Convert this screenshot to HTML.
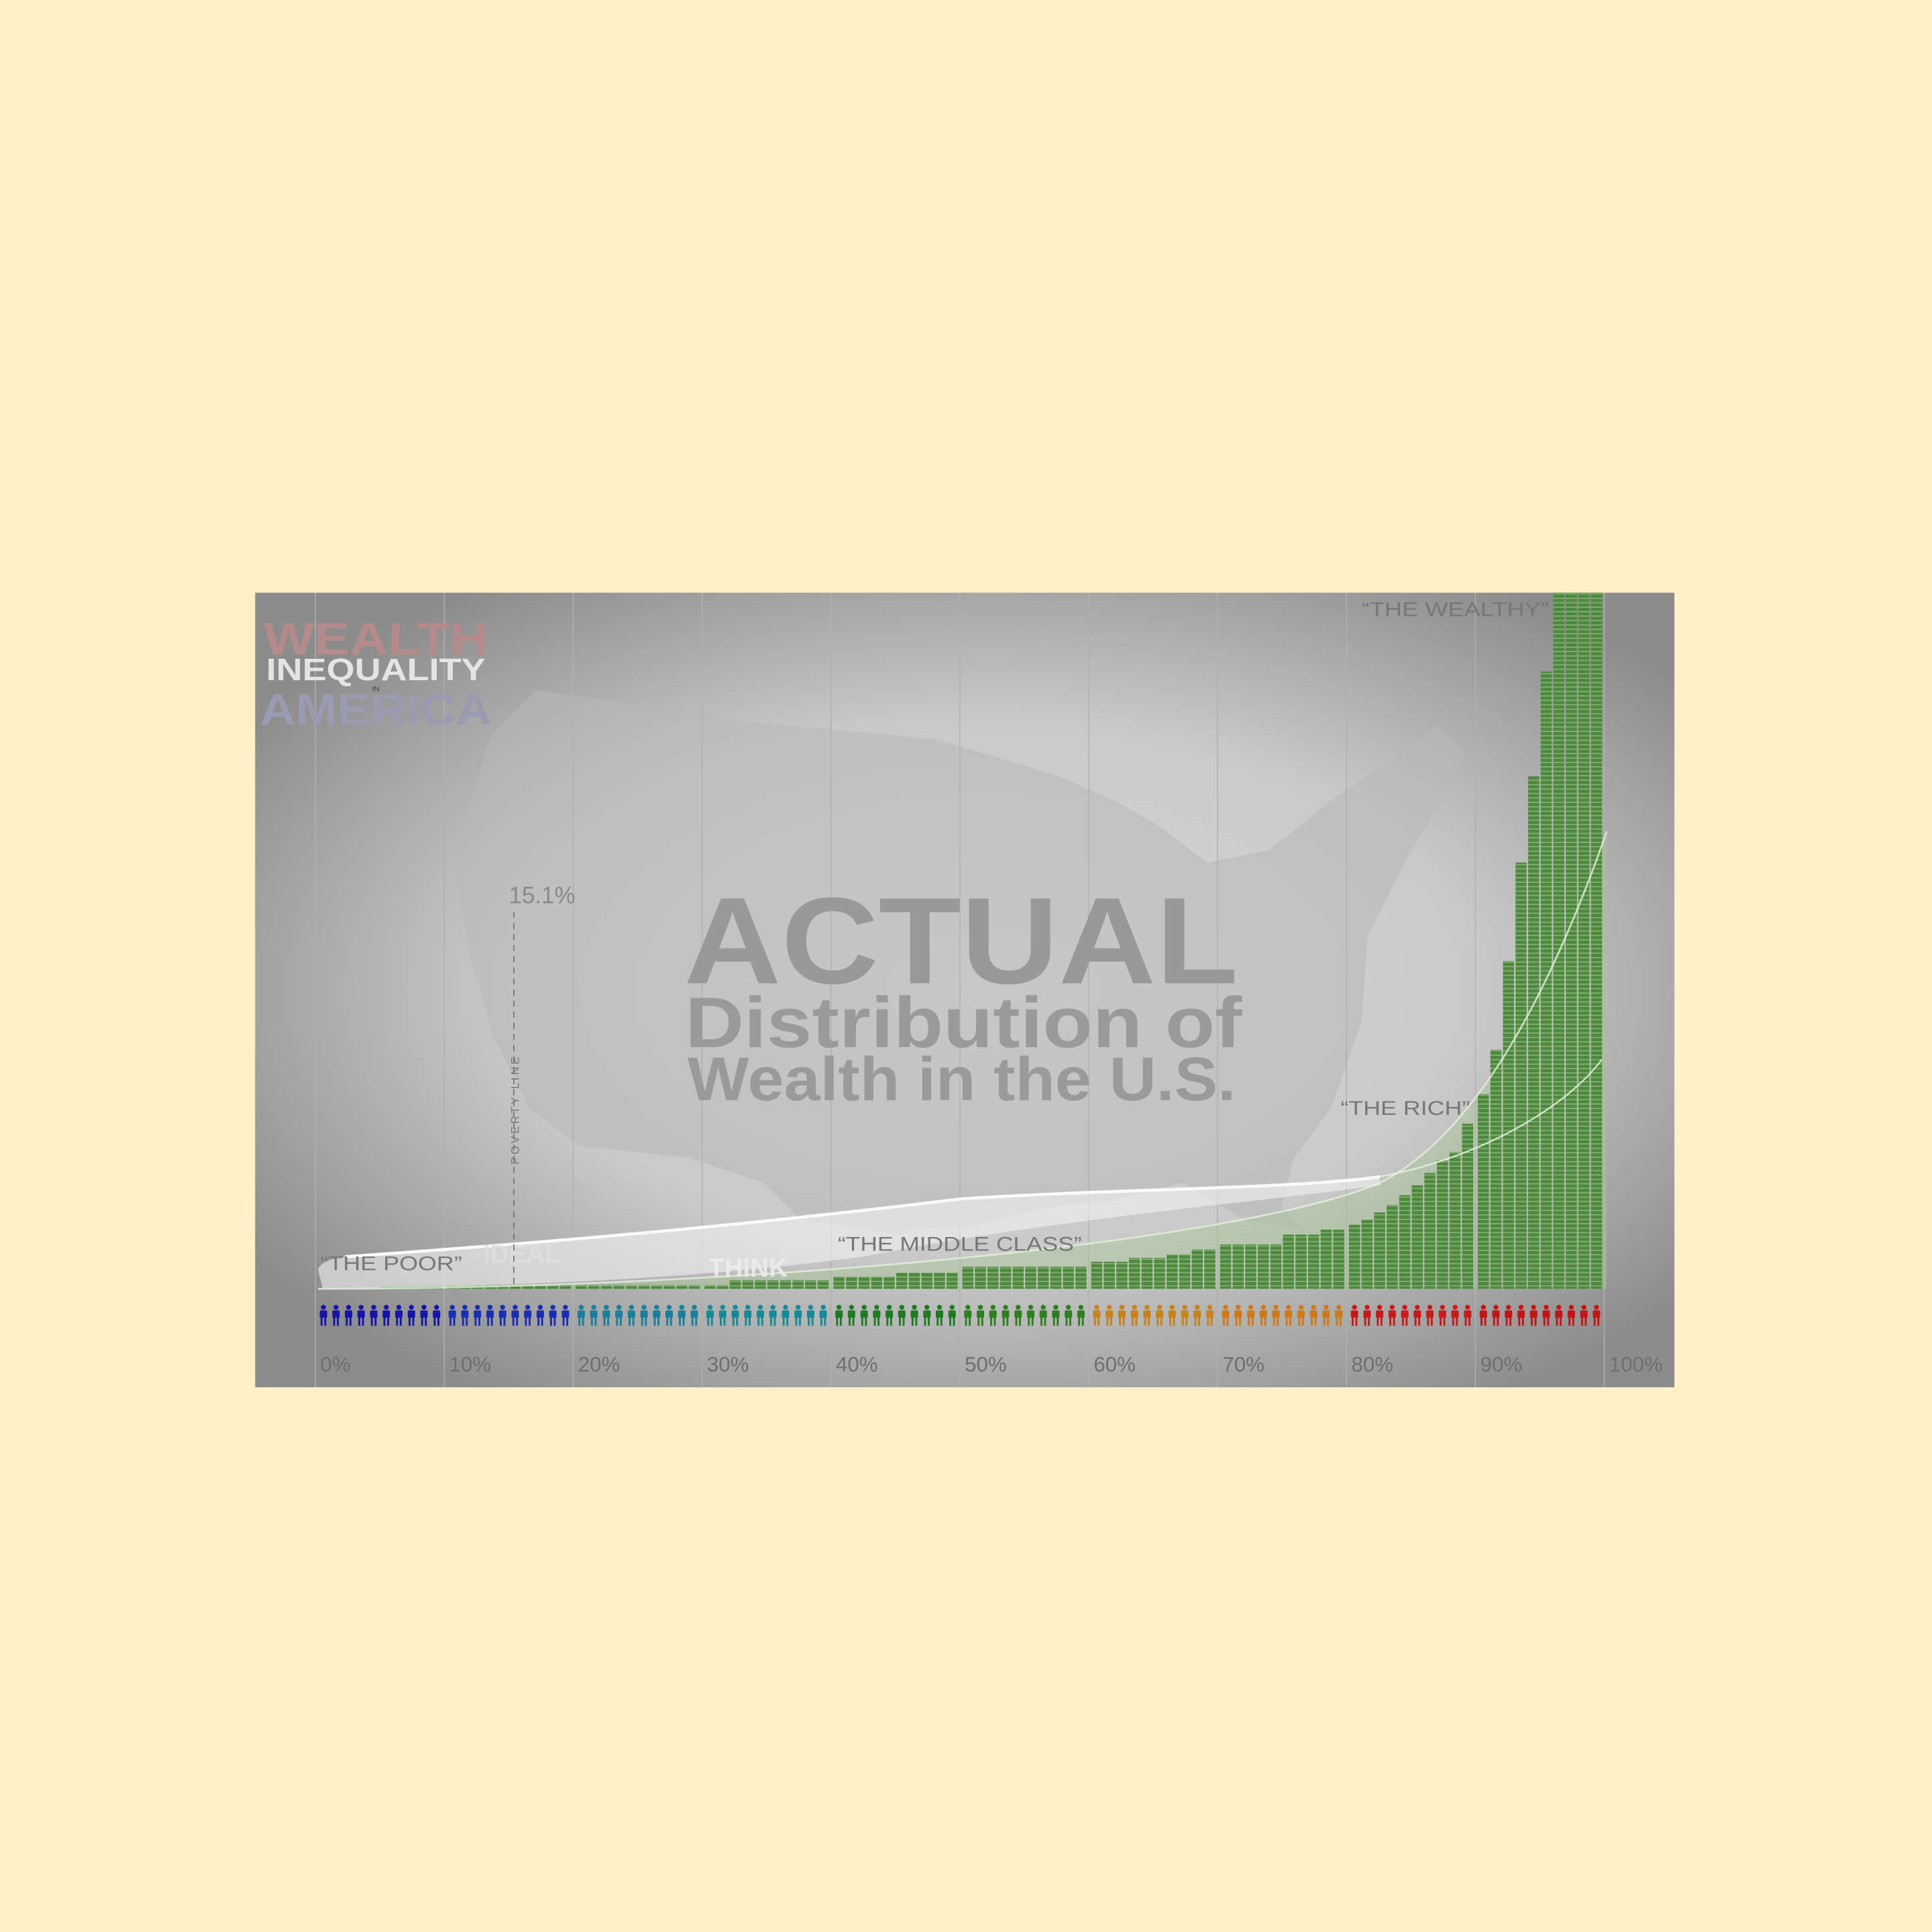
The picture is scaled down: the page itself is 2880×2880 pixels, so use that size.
<!DOCTYPE html>
<html><head><meta charset="utf-8"><style>
html,body{margin:0;padding:0;background:#fff0c9;}
svg{display:block;}
text{font-family:"Liberation Sans",sans-serif;}
</style></head><body>
<svg id="chart" width="2880" height="2880" viewBox="0 0 1568 1568" xmlns="http://www.w3.org/2000/svg">
<defs>
<radialGradient id="bg" cx="0.52" cy="0.5" r="0.62">
<stop offset="0" stop-color="#dadada"/><stop offset="0.55" stop-color="#c9c9c9"/><stop offset="1" stop-color="#8c8c8c"/>
</radialGradient>
<clipPath id="clip"><rect x="207" y="481" width="1152" height="645"/></clipPath>
<pattern id="cells" width="4" height="3.6" patternUnits="userSpaceOnUse"><rect width="4" height="3.6" fill="#4e8a3e"/><rect y="2.8" width="4" height="0.8" fill="#8fb47e"/></pattern>
</defs>
<rect width="1568" height="1568" fill="#fff0c9"/>
<g clip-path="url(#clip)">
<rect x="207" y="481" width="1152" height="645" fill="url(#bg)"/>
<path fill="#b8b8b8" opacity="0.55" d="M398,598 L435,560 L600,585 L760,600 L860,630 L905,650 L940,670 L980,700 L1030,690 L1080,650 L1140,610 L1165,588 L1190,610 L1170,650 L1140,700 L1110,760 L1105,830 L1080,900 L1050,940 L1040,980 L1060,1000 L1010,990 L960,960 L900,975 L850,980 L790,995 L720,1000 L650,990 L620,960 L560,940 L470,930 L430,900 L400,840 L380,770 L368,700 Z"/>
<g id="gridlines"></g>
<text x="555" y="798" textLength="450" lengthAdjust="spacingAndGlyphs" font-size="100" font-weight="bold" fill="#999">ACTUAL</text>
<text x="556" y="850" textLength="452" lengthAdjust="spacingAndGlyphs" font-size="58" font-weight="bold" fill="#9a9a9a">Distribution of</text>
<text x="558" y="893" textLength="445" lengthAdjust="spacingAndGlyphs" font-size="50" font-weight="bold" fill="#9a9a9a">Wealth in the U.S.</text>
<text x="214" y="531" textLength="182" lengthAdjust="spacingAndGlyphs" font-size="37" font-weight="bold" fill="#b58a8a">WEALTH</text>
<text x="216" y="552" textLength="178" lengthAdjust="spacingAndGlyphs" font-size="25" font-weight="bold" fill="#e4e4e4">INEQUALITY</text>
<text x="302" y="561" font-size="6" fill="#444">IN</text>
<text x="211" y="588" textLength="188" lengthAdjust="spacingAndGlyphs" font-size="36" font-weight="bold" fill="#9a9ab0">AMERICA</text>
<path d="M258,1046 C600,1046 1000,1010 1120,960 C1200,920 1260,800 1304,675 L1304,1046 Z" fill="#a9c59a" opacity="0.45"/>
<g id="bars"></g>
<path d="M258,1046 C600,1046 1000,1010 1120,960 C1200,920 1260,800 1304,675" fill="none" stroke="#e4f0dc" stroke-width="1.5" opacity="0.8"/>
<path d="M258,1030 Q262,1022 280,1020 C450,1008 600,995 780,973 C900,965 1050,965 1120,955 L1120,962 C1000,978 850,990 700,1020 C550,1040 400,1044 262,1046 Z" fill="#f2f2f2" opacity="0.6"/>
<path d="M280,1020 C450,1008 600,995 780,973 C900,965 1050,965 1120,955" fill="none" stroke="#fafafa" stroke-width="2.5"/>
<path d="M1120,955 C1200,940 1270,900 1300,860" fill="none" stroke="#e8f2e2" stroke-width="1.3" opacity="0.85"/>
<text x="392" y="1025" font-size="21" font-weight="bold" fill="#e0e0e0" opacity="0.8">IDEAL</text>
<text x="575" y="1036" font-size="21" font-weight="bold" fill="#eeeeee" opacity="0.85">THINK</text>
<line x1="417" y1="740" x2="417" y2="1046" stroke="#777" stroke-width="1" stroke-dasharray="5,4"/>
<text x="421" y="945" font-size="9" fill="#777" letter-spacing="2" transform="rotate(-90 421 945)">POVERTY LINE</text>
<text x="413" y="733" font-size="19" fill="#8a8a8a">15.1%</text>
<text x="260" y="1031" textLength="115" lengthAdjust="spacingAndGlyphs" font-size="16" fill="#777">“THE POOR”</text>
<text x="680" y="1015" textLength="198" lengthAdjust="spacingAndGlyphs" font-size="16" fill="#777">“THE MIDDLE CLASS”</text>
<text x="1088" y="905" textLength="105" lengthAdjust="spacingAndGlyphs" font-size="16" fill="#777">“THE RICH”</text>
<text x="1105" y="500" textLength="152" lengthAdjust="spacingAndGlyphs" font-size="16" fill="#777">“THE WEALTHY”</text>
<g id="people"></g>
<g id="ticks"></g>
</g>
</svg>
<script>
// bar heights (display units above baseline) for each percentile 0..99
const percentiles = Array.from({length:100},(_, i)=>i);
const wealthHeights = [0,0,0,0,0,3,3,3,3,3, 3,3,3,3,3,3,3,3,3,3, 3,3,3,3,3,3,3,3,3,3, 3,3,7,7,7,7,7,7,7,7, 10,10,10,10,10,13,13,13,13,13, 18,18,18,18,18,18,18,18,18,18, 22,22,22,25,25,25,28,28,32,32, 36,36,36,36,36,44,44,44,48,48, 52,56,62,68,76,84,94,104,111,134, 158,194,266,346,416,501,600,600,600,600];
const tickLabels = ["0%","10%","20%","30%","40%","50%","60%","70%","80%","90%","100%"];
const groupColors = ["#1515a8","#1a2fb0","#1a7f9a","#168a96","#1f7a24","#2d7f1f","#c8821c","#cf7a18","#c81a1a","#c41414"];
const NS="http://www.w3.org/2000/svg";
const x0=258, groupW=104.6, barW=10.2, baseY=1046, chartTop=481;
function xScale(i){return x0+Math.floor(i/10)*groupW+(i%10)*barW;}
function yScale(v){return Math.max(chartTop, baseY-v);}
const bars=document.getElementById('bars');
percentiles.forEach(i=>{
  const h=wealthHeights[i]; if(h<=0) return;
  const r=document.createElementNS(NS,'rect');
  r.setAttribute('x',xScale(i)); r.setAttribute('y',yScale(h));
  r.setAttribute('width',barW-1.2); r.setAttribute('height',baseY-yScale(h));
  r.setAttribute('fill','url(#cells)');
  
  
  bars.appendChild(r);
});
const grid=document.getElementById('gridlines');
tickLabels.forEach((t,k)=>{
  const gx=x0+k*groupW-2;
  const l=document.createElementNS(NS,'line');
  l.setAttribute('x1',gx);l.setAttribute('x2',gx);l.setAttribute('y1',481);l.setAttribute('y2',1126);
  l.setAttribute('stroke','#b0b0b0');l.setAttribute('stroke-width','0.8');
  
  
  grid.appendChild(l);
  const tx=document.createElementNS(NS,'text');
  tx.setAttribute('x',x0+k*groupW+2);tx.setAttribute('y',1113);
  tx.setAttribute('font-size','17');tx.setAttribute('fill','#6f6f6f');
  tx.textContent=t;
  
  
  document.getElementById('ticks').appendChild(tx);
});
const people=document.getElementById('people');
percentiles.forEach(i=>{
  const cx=xScale(i)+4.5, c=groupColors[Math.floor(i/10)];
  const g=document.createElementNS(NS,'g');
  g.setAttribute('fill',c);
  g.innerHTML='<circle cx="'+cx+'" cy="1061" r="2"/><rect x="'+(cx-3)+'" y="1063.5" width="6" height="6" rx="1"/><rect x="'+(cx-2.3)+'" y="1069" width="1.6" height="7"/><rect x="'+(cx+0.7)+'" y="1069" width="1.6" height="7"/>';
  
  
  people.appendChild(g);
});
</script>
</body></html>
